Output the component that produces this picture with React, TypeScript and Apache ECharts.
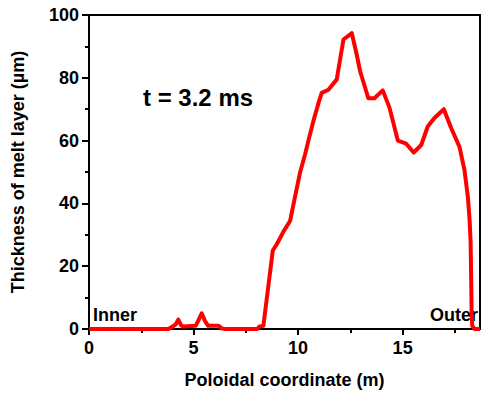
import React, { useEffect, useRef } from "react";
import * as echarts from "echarts";

const xValues = [0, 3.8, 4.0, 4.15, 4.27, 4.4, 4.5, 5.1, 5.25, 5.39, 5.55, 5.7, 6.2, 6.35, 6.5, 8.05, 8.15, 8.34, 8.79, 8.98, 9.3, 9.62, 9.85, 10.1, 10.33, 10.55, 10.73, 11.0, 11.13, 11.45, 11.85, 12.0, 12.17, 12.57, 12.8, 12.97, 13.36, 13.65, 14.05, 14.37, 14.77, 15.17, 15.53, 15.89, 16.2, 16.52, 16.97, 17.32, 17.72, 17.96, 18.12, 18.2, 18.25, 18.28, 18.3, 18.33, 18.44, 18.7];
const yValues = [0, 0, 0.8, 1.5, 3.0, 1.2, 0.8, 1, 3, 5.0, 2.5, 1, 1, 0.2, 0, 0, 0.8, 1, 25, 27, 31, 34.5, 42, 50, 55.5, 61.5, 66.2, 72.5, 75.2, 76.2, 79.5, 85.5, 92.2, 94.2, 87.5, 82, 73.5, 73.5, 76, 70.5, 60, 59, 56.2, 58.6, 64.5, 67.2, 70, 64, 58, 50.5, 42, 35, 28, 15, 5, 1, 0, 0];

const xMajorTicks = [0, 5, 10, 15];
const xMinorTicks = [2.5, 7.5, 12.5, 17.5];
const xMax = 18.7;
const yMin = 0;
const yMax = 100;
const yInterval = 20;

const xTitle = "Poloidal coordinate (m)";
const yTitle = "Thickness of melt layer (\u00b5m)";
const annotation = "t = 3.2 ms";
const innerLabel = "Inner";
const outerLabel = "Outer";

const FONT = "'Liberation Sans', Arial, sans-serif";

export default function App() {
  const ref = useRef<HTMLDivElement>(null);
  useEffect(() => {
    document.body.style.margin = "0";
    if (!ref.current) return;
    const chart = echarts.init(ref.current, undefined, { renderer: "svg" });
    const grid = { left: 89, top: 15, right: 2, bottom: 64 };
    const data = xValues.map((x, i) => [x, yValues[i]]);
    chart.setOption({
      animation: false,
      textStyle: { fontFamily: FONT },
      grid: [
        { ...grid, show: true, borderColor: "#000", borderWidth: 2, backgroundColor: "transparent" },
        { ...grid },
      ],
      xAxis: [
        {
          type: "value",
          gridIndex: 0,
          min: 0,
          max: xMax,
          position: "bottom",
          name: xTitle,
          nameLocation: "middle",
          nameGap: 42,
          nameTextStyle: { fontSize: 18, fontWeight: "bold", color: "#000", fontFamily: FONT },
          axisLine: { show: true, onZero: false, lineStyle: { color: "#000", width: 2 } },
          axisTick: { show: true, length: 6, customValues: xMajorTicks, lineStyle: { color: "#000", width: 2 } },
          axisLabel: { customValues: xMajorTicks, margin: 10, fontSize: 18, fontWeight: "bold", color: "#000", fontFamily: FONT },
          splitLine: { show: false },
        },
        {
          type: "value",
          gridIndex: 1,
          min: 0,
          max: xMax,
          position: "bottom",
          axisLine: { show: false, onZero: false },
          axisTick: { show: true, length: 3, customValues: xMinorTicks, lineStyle: { color: "#000", width: 2 } },
          axisLabel: { show: false },
          splitLine: { show: false },
        },
      ],
      yAxis: [
        {
          type: "value",
          gridIndex: 0,
          min: yMin,
          max: yMax,
          interval: yInterval,
          name: yTitle,
          nameLocation: "middle",
          nameGap: 62,
          nameTextStyle: { fontSize: 18, fontWeight: "bold", color: "#000", fontFamily: FONT },
          axisLine: { show: true, onZero: false, lineStyle: { color: "#000", width: 2 } },
          axisTick: { show: true, length: 7, lineStyle: { color: "#000", width: 2 } },
          minorTick: { show: true, splitNumber: 2, length: 4, lineStyle: { color: "#000", width: 2 } },
          axisLabel: { margin: 10, fontSize: 18, fontWeight: "bold", color: "#000", fontFamily: FONT },
          splitLine: { show: false },
        },
        {
          type: "value",
          gridIndex: 1,
          min: yMin,
          max: yMax,
          show: false,
        },
      ],
      series: [
        {
          type: "line",
          xAxisIndex: 0,
          yAxisIndex: 0,
          data,
          showSymbol: false,
          symbol: "none",
          clip: false,
          lineStyle: { color: "#ff0000", width: 4, join: "round" },
          z: 5,
        },
      ],
      graphic: [
        {
          type: "text",
          x: 143,
          y: 97.5,
          style: { text: annotation, font: `bold 24px ${FONT}`, fill: "#000", verticalAlign: "middle", align: "left" },
        },
        {
          type: "text",
          x: 93,
          y: 315,
          style: { text: innerLabel, font: `bold 18px ${FONT}`, fill: "#000", verticalAlign: "middle", align: "left" },
        },
        {
          type: "text",
          x: 478,
          y: 315,
          style: { text: outerLabel, font: `bold 18px ${FONT}`, fill: "#000", verticalAlign: "middle", align: "right" },
        },
      ],
    });
    return () => chart.dispose();
  }, []);
  return <div ref={ref} style={{ width: 482, height: 394 }} />;
}
